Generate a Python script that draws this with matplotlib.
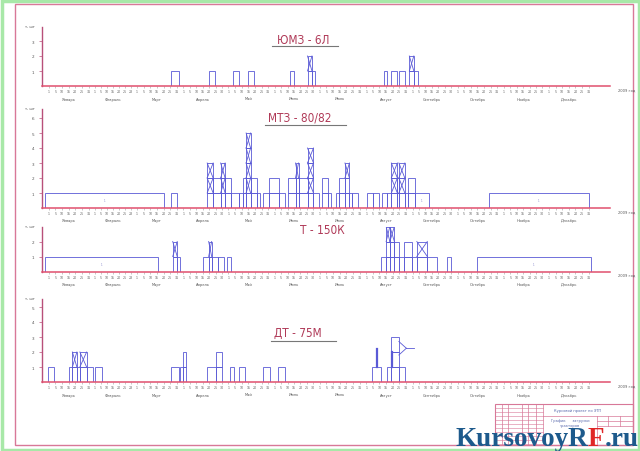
import matplotlib
matplotlib.use("Agg")
import matplotlib.pyplot as plt
from matplotlib.patches import Rectangle

# ---------------- data ----------------
months = ["Январь", "Февраль", "Март", "Апрель", "Май", "Июнь", "Июль",
          "Август", "Сентябрь", "Октябрь", "Ноябрь", "Декабрь"]
month_len = [31, 28, 31, 30, 31, 30, 31, 31, 30, 31, 30, 31]
day_labels = [1, 5, 10, 15, 20, 25]

titles = ["ЮМЗ - 6Л", "МТЗ - 80/82", "Т - 150К", "ДТ - 75М"]
y_max_ticks = [3, 6, 2, 5]

# ЮМЗ-6Л : start day, end day, number of tractors, first crossed level (0 = none)
p1_start = [84, 109, 125, 135, 163, 175, 178, 226, 231, 236, 243, 246]
p1_end   = [89, 113, 129, 139, 166, 178, 180, 228, 235, 240, 246, 249]
p1_count = [1, 1, 1, 1, 1, 2, 1, 1, 1, 1, 2, 1]
p1_cross = [0, 0, 0, 0, 0, 2, 0, 0, 0, 0, 2, 0]

# МТЗ-80/82
p2_start = [0, 84, 108, 112, 117, 120, 124, 129, 132, 134, 137, 141, 145, 149, 156,
            162, 167, 169, 175, 179, 185, 189, 194, 196, 200, 203, 205, 215, 219,
            225, 228, 231, 235, 236, 240, 242, 247, 296]
p2_end   = [79, 88, 112, 117, 120, 124, 129, 132, 134, 137, 141, 143, 149, 156, 160,
            167, 169, 175, 179, 183, 189, 191, 196, 200, 203, 205, 209, 219, 223,
            228, 231, 235, 236, 240, 242, 247, 256, 363]
p2_count = [1, 1, 3, 2, 3, 2, 1, 1, 2, 5, 2, 1, 1, 2, 1,
            2, 3, 2, 4, 1, 2, 1, 1, 2, 3, 1, 1, 1, 1,
            1, 1, 3, 2, 3, 1, 2, 1, 1]
p2_cross = [0, 0, 2, 0, 2, 0, 0, 0, 0, 2, 0, 0, 0, 0, 0,
            0, 3, 0, 2, 0, 0, 0, 0, 0, 3, 0, 0, 0, 0,
            0, 0, 2, 0, 2, 0, 0, 0, 0]

# Т-150К
p3_start = [0, 85, 88, 105, 109, 111, 115, 121, 224, 227.5, 230, 233, 236, 239.5,
            244.5, 248, 255, 268, 288]
p3_end   = [75, 88, 90, 109, 111, 115, 119, 124, 227.5, 230, 233, 236, 239.5, 244.5,
            248, 255, 261.5, 271, 364]
p3_count = [1, 2, 1, 1, 2, 1, 1, 1, 1, 3, 3, 2, 1, 2, 1, 2, 1, 1, 1]
p3_cross = [0, 2, 0, 0, 2, 0, 0, 0, 0, 3, 3, 0, 0, 0, 0, 2, 0, 0, 0]

# ДТ-75М
p4_start = [2, 16, 18, 21, 23, 27.5, 33, 84, 90, 92, 108, 114, 123, 129.5, 145.5,
            155.5, 218, 228, 231, 236]
p4_end   = [6, 18, 21, 23, 27.5, 32, 37.5, 89, 92, 94, 114, 118, 126, 133, 150,
            160, 224, 231, 236, 240]
p4_count = [1, 1, 2, 1, 2, 1, 1, 1, 1, 2, 1, 2, 1, 1, 1, 1, 1, 1, 3, 1]
p4_cross = [0, 0, 2, 0, 2, 0, 0, 0, 0, 0, 0, 0, 0, 0, 0, 0, 0, 0, 0, 0]
p4_mark_day = [221.5, 231.5]
p4_mark_top = [2.2, 2.0]

panels = [
    (p1_start, p1_end, p1_count, p1_cross),
    (p2_start, p2_end, p2_count, p2_cross),
    (p3_start, p3_end, p3_count, p3_cross),
    (p4_start, p4_end, p4_count, p4_cross),
]

# ---------------- layout / style ----------------
W, H = 640, 452
fig = plt.figure(figsize=(6.4, 4.52), dpi=100)
fig.patch.set_facecolor("white")

BAR = "#5a5ad6"
AXIS_RED = "#e0506e"
AXIS_LEFT = "#b8507a"
FRAME = "#d87898"
TITLE_C = "#b03a58"

# pixel layout of each panel: (top, baseline)
boxes = [(28, 87), (110, 209), (228, 272.5), (300, 383)]
x_left, x_right = 42, 610
xlim = (-2.3, 377)
title_pos = [(277, 40, 272, 338, 47), (268, 118, 265, 346, 126),
             (300, 231, None, None, None), (274, 333, 271, 336, 342)]

# background overlay axes in pixel coordinates
bg = fig.add_axes([0, 0, 1, 1])
bg.set_xlim(0, W)
bg.set_ylim(H, 0)
bg.axis("off")
bg.add_patch(Rectangle((1.5, 1.5), W - 3, H - 3, fill=False, ec="#a8e8a8", lw=2.5))
bg.add_patch(Rectangle((15, 5), 618, 441, fill=False, ec=FRAME, lw=1.0))

month_start = []
s = 0
for L in month_len:
    month_start.append(s)
    s += L

# seven evenly spaced day labels per month, as on the drawing
xticks, xlabels = [], []
for ms, L in zip(month_start, month_len):
    labs = day_labels + [L]
    n = len(labs)
    for j, d in enumerate(labs):
        xticks.append(ms + (j + 0.5) * L / n)
        xlabels.append(str(d))

for i, (data, (top, base)) in enumerate(zip(panels, boxes)):
    starts, ends, counts, crosses = data
    ax = fig.add_axes([x_left / W, 1 - base / H, (x_right - x_left) / W, (base - top) / H])
    ax.set_facecolor("none")
    ax.set_xlim(*xlim)
    ax.set_ylim(0, (base - top) / 15.0)
    for sp in ("top", "right"):
        ax.spines[sp].set_visible(False)
    ax.spines["bottom"].set_color(AXIS_RED)
    ax.spines["bottom"].set_linewidth(1.1)
    ax.spines["left"].set_color(AXIS_LEFT)
    ax.spines["left"].set_linewidth(1.0)
    ax.set_xticks(xticks)
    ax.set_xticklabels(xlabels)
    ax.set_yticks(range(1, y_max_ticks[i] + 1))
    ax.tick_params(axis="x", length=1.5, width=0.4, color="#999999", labelsize=2.3,
                   pad=1, labelcolor="#666666")
    ax.tick_params(axis="y", length=2.5, width=0.5, color=AXIS_LEFT, labelsize=3,
                   pad=3, labelcolor="#555555")
    for ms, L, name in zip(month_start, month_len, months):
        ax.annotate(name, xy=(ms + L / 2, 0), xycoords=("data", "axes fraction"),
                    xytext=(0, -9), textcoords="offset points", ha="center",
                    va="center", fontsize=2.6, color="#555555")
    ax.annotate("т, шт", xy=(0, 1), xycoords="axes fraction", xytext=(-9, 1),
                textcoords="offset points", ha="center", va="center",
                fontsize=2.6, color="#555555", annotation_clip=False)
    ax.annotate("2009 год", xy=(1, 0), xycoords="axes fraction", xytext=(6, -2.5),
                textcoords="offset points", ha="left", va="center",
                fontsize=2.6, color="#555555", annotation_clip=False)

    for st, en, c, cr in zip(starts, ends, counts, crosses):
        for k in range(c):
            ax.add_patch(Rectangle((st, k), en - st, 1, fill=False, ec=BAR, lw=0.6))
            if cr and k + 1 >= cr:
                ax.plot([st, en], [k, k + 1], color=BAR, lw=0.6)
                ax.plot([st, en], [k + 1, k], color=BAR, lw=0.6)
        if en - st > 8:
            ax.text((st + en) / 2, 0.5, "1", fontsize=2, color="#8888cc",
                    ha="center", va="center")
    if i == 3:
        for d, t in zip(p4_mark_day, p4_mark_top):
            ax.plot([d, d], [1, t], color=BAR, lw=1.6)
        ax.plot([236, 241], [2.7, 2.25], color=BAR, lw=0.6)
        ax.plot([236, 241], [1.8, 2.25], color=BAR, lw=0.6)
        ax.plot([241, 246], [2.25, 2.25], color=BAR, lw=0.6)

    tx, ty, ux0, ux1, uy = title_pos[i]
    bg.text(tx, ty, titles[i], fontsize=8.5, color=TITLE_C, ha="left", va="center",
            family="DejaVu Sans", stretch="condensed")
    if ux0 is not None:
        bg.plot([ux0, ux1], [uy, uy], color="#777777", lw=0.8)

# ---------------- title block ----------------
bx0, by0, bx1, by1 = 495, 405, 633, 446
bg.add_patch(Rectangle((bx0, by0), bx1 - bx0, by1 - by0, fill=False, ec=FRAME, lw=0.8))
for x in [501.5, 508, 521.5, 528, 536, 543]:
    bg.plot([x, x], [by0, by1], color=FRAME, lw=0.5)
for y in range(409, 446, 4):
    bg.plot([bx0, 543], [y, y], color=FRAME, lw=0.4)
bg.plot([543, bx1], [417, 417], color=FRAME, lw=0.5)
bg.plot([597, 597], [417, by1], color=FRAME, lw=0.5)
for x in [608, 620]:
    bg.plot([x, x], [417, 427], color=FRAME, lw=0.5)
bg.plot([597, bx1], [422, 422], color=FRAME, lw=0.5)
bg.plot([597, bx1], [427, 427], color=FRAME, lw=0.5)
bg.text(578, 411, "Курсовой проект по ЭТП", fontsize=2.6, color="#5566aa",
        ha="center", va="center")
bg.text(570, 421, "График      загрузки", fontsize=2.6, color="#5566aa",
        ha="center", va="center")
bg.text(570, 426.5, "тракторов", fontsize=2.6, color="#5566aa", ha="center", va="center")

# ---------------- watermark ----------------
fig.canvas.draw()
renderer = fig.canvas.get_renderer()
x = 455
inv = bg.transData.inverted()
for part, col in [("KursovoyR", "#1d5a8c"), ("F", "#e02626"), (".ru", "#1d5a8c")]:
    t = bg.text(x, 446, part, fontsize=19.5, color=col, family="Liberation Serif",
                weight="bold", ha="left", va="baseline")
    bb = t.get_window_extent(renderer)
    x = inv.transform((bb.x1, bb.y0))[0]

fig.savefig("out.png", dpi=100, facecolor="white")
